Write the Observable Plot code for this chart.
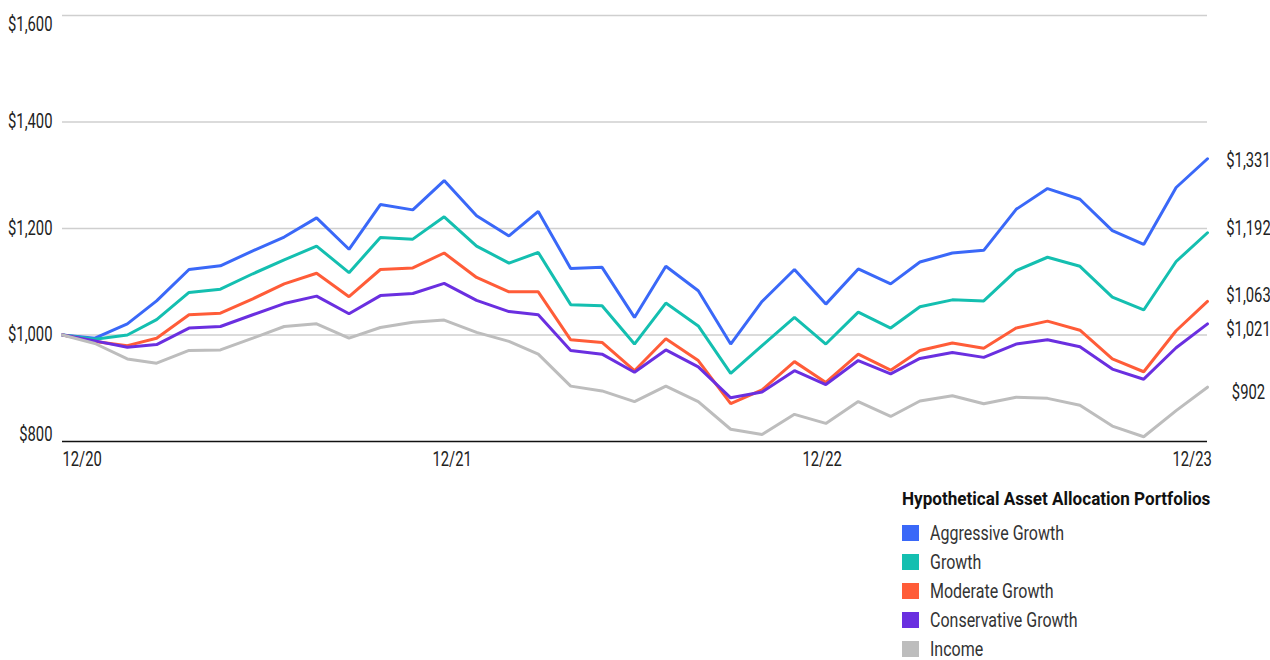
<!DOCTYPE html>
<html>
<head>
<meta charset="utf-8">
<script src="https://cdn.jsdelivr.net/npm/d3@7"></script>
<script src="https://cdn.jsdelivr.net/npm/@observablehq/plot@0.6"></script>
<style>
  html, body { margin: 0; padding: 0; background: #fff; }
  body { width: 1270px; font-family: Roboto, "Liberation Sans", sans-serif; }
  #chart svg { display: block; }
  .legend { margin-left: 902px; margin-top: 6px; color: #222; }
  .legend .title { font-weight: bold; font-size: 19px; line-height: 22px; margin-bottom: 8px; color: #111; white-space: nowrap; }
  .legend .row { display: flex; align-items: center; height: 29px; font-size: 20px; color: #333; white-space: nowrap; }
  .legend .sw { width: 17px; height: 16px; margin-right: 11px; flex: none; }
  .narrow { display: inline-block; transform-origin: 0 50%; }
</style>
</head>
<body>
<div id="chart"></div>
<div class="legend" id="legend"></div>
<script>
// Growth of a hypothetical $1,000 investment, month by month, 12/20 – 12/23
const seriesNames = ["Aggressive Growth", "Growth", "Moderate Growth", "Conservative Growth", "Income"];
const seriesColors = ["#3a68f8", "#14bfb0", "#ff5c38", "#6a2fe0", "#bdbdbd"];

const aggressiveGrowth = [1000, 994, 1021, 1064, 1123, 1130, 1158, 1184, 1220, 1161, 1245, 1235, 1290, 1224, 1186, 1232, 1125, 1127, 1033, 1129, 1083, 983, 1063, 1123, 1058, 1124, 1096, 1137, 1154, 1159, 1236, 1275, 1255, 1196, 1170, 1277, 1331];
const growth = [1000, 992, 1000, 1029, 1080, 1086, 1115, 1141, 1167, 1117, 1183, 1180, 1222, 1167, 1135, 1155, 1057, 1055, 983, 1060, 1017, 928, 980, 1033, 983, 1043, 1013, 1053, 1066, 1064, 1121, 1146, 1129, 1071, 1047, 1138, 1192];
const moderateGrowth = [1000, 988, 980, 994, 1038, 1041, 1068, 1096, 1116, 1072, 1123, 1126, 1154, 1108, 1081, 1081, 991, 986, 933, 993, 952, 871, 897, 950, 911, 964, 934, 971, 985, 975, 1013, 1026, 1009, 955, 931, 1008, 1063];
const conservativeGrowth = [1000, 989, 977, 982, 1013, 1016, 1038, 1059, 1073, 1040, 1074, 1078, 1097, 1065, 1044, 1038, 971, 964, 930, 972, 940, 882, 893, 933, 907, 952, 927, 956, 967, 958, 983, 991, 978, 936, 917, 976, 1021];
const income = [1000, 984, 955, 947, 971, 972, 994, 1016, 1021, 994, 1014, 1024, 1028, 1005, 988, 964, 904, 895, 875, 904, 875, 823, 813, 851, 834, 875, 847, 876, 886, 871, 883, 881, 868, 829, 809, 858, 902];

const yTicks = [800, 1000, 1200, 1400, 1600];
const xTickLabels = ["12/20", "12/21", "12/22", "12/23"];

// monthly observation dates, Dec 2020 through Dec 2023
const months = d3.utcMonth.range(new Date(Date.UTC(2020, 11, 1)), new Date(Date.UTC(2024, 0, 1)));
const xTickDates = xTickLabels.map((_, k) => months[k * 12]);

const allSeries = [aggressiveGrowth, growth, moderateGrowth, conservativeGrowth, income];
const rows = allSeries.flatMap((vals, s) => vals.map((v, i) => ({series: seriesNames[s], date: months[i], value: v})));
const endRows = allSeries.map((vals, s) => ({series: seriesNames[s], date: months[months.length - 1], value: vals[vals.length - 1]}));

// small vertical nudges (px) so the end labels don't collide
const endLabelNudge = [2, -4, -6, 6, 5];

const dollar = d3.format("$,");
const labelWidth = 35;
const squeeze = 0.74; // horizontal condensing of the chart's type

const chart = Plot.plot({
  width: 1270,
  height: 482,
  marginTop: 15,
  marginBottom: 41,
  marginLeft: 62,
  marginRight: 63,
  style: {fontFamily: "Roboto, sans-serif", fontSize: "20px", color: "#222", background: "#fff", overflow: "visible"},
  x: {type: "utc", domain: [months[0], months[months.length - 1]], axis: null},
  y: {domain: [800, 1600], axis: null},
  color: {domain: seriesNames, range: seriesColors},
  marks: [
    Plot.ruleY(yTicks.filter((t) => t > 800), {stroke: "#cfcfcf", strokeWidth: 1.4}),
    Plot.line(rows, {x: "date", y: "value", z: "series", stroke: "series", strokeWidth: 3, strokeLinejoin: "miter", curve: "linear"}),
    Plot.ruleY([800], {stroke: "#111", strokeWidth: 1.6}),
    // y tick labels: top one hangs below its gridline, bottom one sits on the baseline
    Plot.text(yTicks.filter((t) => t === 1600), {y: (d) => d, text: (d) => dollar(d), frameAnchor: "left", dx: -10, textAnchor: "end", lineAnchor: "top", dy: 1, fill: "#222"}),
    Plot.text(yTicks.filter((t) => t > 800 && t < 1600), {y: (d) => d, text: (d) => dollar(d), frameAnchor: "left", dx: -10, textAnchor: "end", lineAnchor: "middle", fill: "#222"}),
    Plot.text(yTicks.filter((t) => t === 800), {y: (d) => d, text: (d) => dollar(d), frameAnchor: "left", dx: -10, textAnchor: "end", lineAnchor: "bottom", dy: -1, fill: "#222"}),
    // x tick labels spread evenly from the left edge to the right edge
    ...xTickLabels.map((label, k) =>
      Plot.text([label], {x: () => xTickDates[k], text: (d) => d, frameAnchor: "bottom", lineAnchor: "top", dy: 10, textAnchor: "start", dx: -k * labelWidth / 3, fill: "#222"})
    ),
    // end-of-period values
    ...endRows.map((r, s) =>
      Plot.text([r], {x: "date", y: "value", text: (d) => dollar(d.value), dx: 41, dy: endLabelNudge[s], textAnchor: "middle", fill: "#222"})
    )
  ]
});

// condense every label horizontally about its own anchor point
chart.querySelectorAll("text").forEach((el) => {
  const t = el.getAttribute("transform");
  if (t) {
    el.setAttribute("transform", `${t} scale(${squeeze},1)`);
  } else {
    const x = +(el.getAttribute("x") || 0);
    el.setAttribute("transform", `translate(${x},0) scale(${squeeze},1) translate(${-x},0)`);
  }
});
document.getElementById("chart").append(chart);

// legend below the chart
const legend = document.getElementById("legend");
const title = document.createElement("div");
title.className = "title";
const titleText = document.createElement("span");
titleText.className = "narrow";
titleText.style.transform = "scaleX(0.9)";
titleText.textContent = "Hypothetical Asset Allocation Portfolios";
title.append(titleText);
legend.append(title);
seriesNames.forEach((name, s) => {
  const row = document.createElement("div");
  row.className = "row";
  const sw = document.createElement("span");
  sw.className = "sw";
  sw.style.background = seriesColors[s];
  const lab = document.createElement("span");
  lab.className = "narrow";
  lab.style.transform = "scaleX(0.8)";
  lab.textContent = name;
  row.append(sw, lab);
  legend.append(row);
});
</script>
</body>
</html>
